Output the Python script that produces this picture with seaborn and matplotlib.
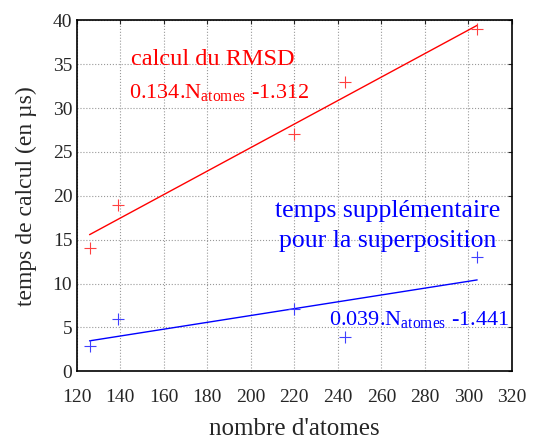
import matplotlib
matplotlib.use("Agg")
import matplotlib.pyplot as plt
import seaborn as sns
import numpy as np
import pandas as pd

# Data
atoms = [126, 139, 220, 243.5, 304]
rmsd_time = [14, 19, 27, 33, 39]
superpos_time = [2.85, 6, 7.1, 3.9, 13]
rmsd_fit = (0.134, -1.312)
sup_fit = (0.039, -1.441)
x_ticks = [120, 140, 160, 180, 200, 220, 240, 260, 280, 300, 320]
y_ticks = [0, 5, 10, 15, 20, 25, 30, 35, 40]

sns.set_style("white")
plt.rcParams['font.family'] = ['Liberation Serif', 'DejaVu Serif']
plt.rcParams['mathtext.fontset'] = 'custom'
plt.rcParams['mathtext.rm'] = 'Liberation Serif'
plt.rcParams['mathtext.it'] = 'Liberation Serif:italic'

fig = plt.figure(figsize=(5.35, 4.41), dpi=100)
ax = fig.add_axes([0.143, 0.158, 0.814, 0.796])

df = pd.DataFrame({"x": atoms, "rmsd": rmsd_time, "sup": superpos_time})
xfit = np.array([atoms[0], atoms[-1]])
fit_df = pd.DataFrame({"x": xfit,
                       "rmsd": rmsd_fit[0] * xfit + rmsd_fit[1],
                       "sup": sup_fit[0] * xfit + sup_fit[1]})

sns.lineplot(data=fit_df, x="x", y="rmsd", color="#ff0000", lw=1.0, ax=ax)
sns.lineplot(data=fit_df, x="x", y="sup", color="#0000ff", lw=1.0, ax=ax)
ax.plot(df["x"], df["rmsd"], ls="none", marker="+", ms=9, mew=0.8, color="#ff4040")
ax.plot(df["x"], df["sup"], ls="none", marker="+", ms=9, mew=0.8, color="#4040ff")

ax.set_xlim(120, 320)
ax.set_ylim(0, 40)
ax.set_xticks(x_ticks)
ax.set_yticks(y_ticks)
ax.grid(True, ls=":", color="#999999", lw=0.8)
for s in ax.spines.values():
    s.set_visible(True)
    s.set_color("black")
    s.set_linewidth(1.2)
ax.tick_params(direction="in", length=3, width=0.8, top=True, right=True,
               labelsize=14)
ax.tick_params(axis="x", pad=13)
ax.tick_params(axis="y", pad=3)
ax.set_xlabel("nombre d'atomes", fontsize=18, labelpad=8.5)
ax.set_ylabel("temps de calcul (en µs)", fontsize=17, labelpad=11)

ax.text(145.1, 34.9, "calcul du RMSD", color="#ff0000", fontsize=17.5)
ax.text(143.9, 31.1, r"0.134.N$_{\mathrm{atomes}}$ -1.312", color="#ff0000", fontsize=16)
ax.text(263, 17.6, "temps supplémentaire", color="#0000ff", fontsize=18.5,
        ha="center", va="baseline")
ax.text(263, 14.2, "pour la superposition", color="#0000ff", fontsize=18.5,
        ha="center", va="baseline")
ax.text(236, 5.24, r"0.039.N$_{\mathrm{atomes}}$ -1.441", color="#0000ff",
        fontsize=16, va="baseline")

fig.savefig("out.png", dpi=100)
